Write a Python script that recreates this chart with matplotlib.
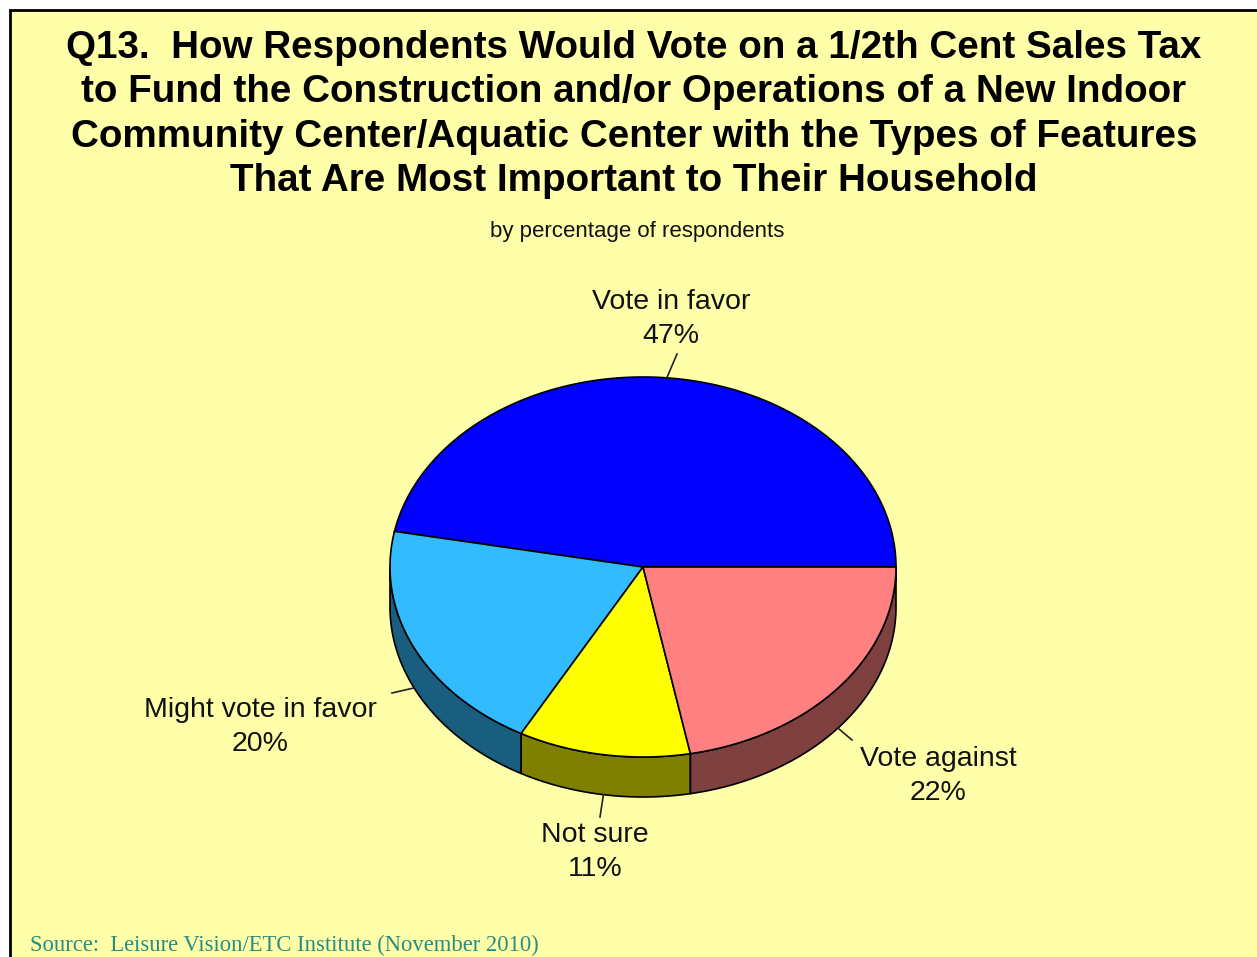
import numpy as np
import matplotlib.pyplot as plt
from matplotlib.patches import Polygon, Rectangle

# ------------------------------------------------------------
# data
# ------------------------------------------------------------
labels = ["Vote in favor", "Might vote in favor", "Not sure", "Vote against"]
values = [47, 20, 11, 22]
top_colors = ["#0000FF", "#33BBFF", "#FFFF00", "#FF8080"]
side_colors = ["#00007F", "#1A5E7F", "#808000", "#7F4040"]

title_lines = [
    "Q13.  How Respondents Would Vote on a 1/2th Cent Sales Tax",
    "to Fund the Construction and/or Operations of a New Indoor",
    "Community Center/Aquatic Center with the Types of Features",
    "That Are Most Important to Their Household",
]
subtitle = "by percentage of respondents"
source = "Source:  Leisure Vision/ETC Institute (November 2010)"

# ------------------------------------------------------------
# layout (pixel space)
# ------------------------------------------------------------
W, H = 1257, 957
cx, cy, rx, ry, depth = 643, 567, 253, 190, 40
label_xy = [(671, 319), (260, 727), (595, 852), (938, 776)]
line_end = [(677, 354), (392, 693), (600, 817), (852, 740)]

plt.rcParams["font.family"] = ["Liberation Sans", "DejaVu Sans"]

fig = plt.figure(figsize=(W / 100, H / 100), dpi=100)
fig.patch.set_facecolor("white")
ax = fig.add_axes([0, 0, 1, 1])
ax.set_xlim(0, W)
ax.set_ylim(H, 0)
ax.axis("off")

ax.add_patch(Rectangle((10, 10), W + 20, H + 20, facecolor="#FFFFAA",
                       edgecolor="black", lw=2, zorder=0))


def pt(theta_deg, dz=0.0):
    t = np.deg2rad(theta_deg)
    return cx + rx * np.cos(t), cy - ry * np.sin(t) + dz


fracs = np.array(values, dtype=float) / sum(values)
bounds = np.concatenate([[0.0], np.cumsum(fracs) * 360.0])

# side walls (only front half is visible)
for i in range(len(values)):
    lo = max(bounds[i], 180.0)
    hi = min(bounds[i + 1], 360.0)
    if hi <= lo:
        continue
    arc = np.linspace(lo, hi, 120)
    xs, ys = pt(arc)
    poly = np.vstack([np.column_stack([xs, ys]),
                      np.column_stack([xs[::-1], ys[::-1] + depth])])
    ax.add_patch(Polygon(poly, closed=True, facecolor=side_colors[i],
                         edgecolor="black", lw=1.2, zorder=2))

# top faces
for i in range(len(values)):
    arc = np.linspace(bounds[i], bounds[i + 1], 200)
    xs, ys = pt(arc)
    poly = np.vstack([[cx, cy], np.column_stack([xs, ys])])
    ax.add_patch(Polygon(poly, closed=True, facecolor=top_colors[i],
                         edgecolor="black", lw=1.2, zorder=3))

# labels with leader lines
for i in range(len(values)):
    mid = (bounds[i] + bounds[i + 1]) / 2.0
    dz = depth if np.sin(np.deg2rad(mid)) < 0 else 0.0
    ax0, ay0 = pt(mid, dz)
    ex, ey = line_end[i]
    ax.plot([ax0, ex], [ay0, ey], color="#222222", lw=1.2, zorder=4)
    lx, ly = label_xy[i]
    ax.text(lx, ly, f"{labels[i]}\n{values[i]}%", ha="center", va="center",
            fontsize=20.5, linespacing=1.42, color="#111111", zorder=5)

# titles
title_y = [48, 92, 137, 181]
for line, y in zip(title_lines, title_y):
    ax.text(634, y, line, ha="center", va="center", fontsize=27.8,
            fontweight="bold", color="black")
ax.text(637, 231, subtitle, ha="center", va="center", fontsize=16,
        color="#111111")
ax.text(30, 945, source, ha="left", va="center", fontsize=16.3,
        family=["Liberation Serif", "DejaVu Serif"], color="#2A8C80")

fig.savefig("out.png", dpi=100, facecolor="white")
